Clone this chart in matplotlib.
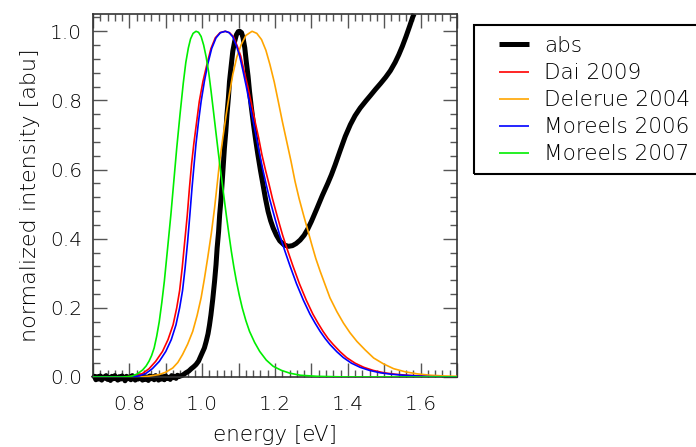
import matplotlib
matplotlib.use("Agg")
import matplotlib.pyplot as plt
from matplotlib.ticker import MultipleLocator, FixedLocator, FixedFormatter
from matplotlib.patches import Rectangle

# ---------------- data ----------------
abs_x = [0.700, 0.704, 0.708, 0.712, 0.716, 0.720, 0.724, 0.728, 0.732, 0.736,
         0.740, 0.744, 0.748, 0.752, 0.756, 0.760, 0.764, 0.768, 0.772, 0.776,
         0.780, 0.784, 0.788, 0.792, 0.796, 0.800, 0.804, 0.808, 0.812, 0.816,
         0.820, 0.824, 0.828, 0.832, 0.836, 0.840, 0.844, 0.848, 0.852, 0.856,
         0.860, 0.864, 0.868, 0.872, 0.876, 0.880, 0.884, 0.888, 0.892, 0.896,
         0.900, 0.904, 0.908, 0.912, 0.916, 0.920, 0.924, 0.928, 0.932, 0.936,
         0.940, 0.944, 0.950, 0.955, 0.963, 0.970, 0.977, 0.983, 0.990, 0.995,
         1.000, 1.006, 1.011, 1.016, 1.020, 1.024, 1.029, 1.034, 1.038, 1.041,
         1.045, 1.048, 1.052, 1.055, 1.058, 1.061, 1.065, 1.068, 1.072, 1.075,
         1.080, 1.084, 1.089, 1.094, 1.099, 1.103, 1.108, 1.112, 1.117, 1.121,
         1.126, 1.130, 1.135, 1.141, 1.147, 1.153, 1.160, 1.167, 1.174, 1.181,
         1.188, 1.195, 1.204, 1.213, 1.225, 1.237, 1.248, 1.258, 1.269, 1.280,
         1.290, 1.300, 1.315, 1.330, 1.345, 1.355, 1.365, 1.379, 1.393, 1.407,
         1.420, 1.434, 1.450, 1.462, 1.476, 1.490, 1.504, 1.517, 1.530, 1.540,
         1.550, 1.560, 1.570, 1.578, 1.582]
abs_y = [-0.004, 0.002, -0.008, 0.001, -0.006, 0.003, -0.009, 0.000, -0.003, 0.004,
         -0.007, -0.001, -0.010, 0.002, -0.005, 0.004, -0.004, -0.009, 0.001, -0.006,
         0.003, -0.002, -0.011, 0.002, -0.005, 0.000, -0.008, 0.004, -0.003, -0.009,
         0.001, -0.006, 0.003, -0.004, -0.009, 0.002, -0.007, 0.000, -0.010, 0.003,
         -0.005, 0.001, -0.008, 0.004, -0.003, -0.009, 0.002, -0.006, 0.001, -0.008,
         0.003, -0.004, -0.001, -0.007, 0.004, -0.002, 0.002, -0.004, 0.005, 0.001,
         0.003, 0.004, 0.008, 0.012, 0.017, 0.024, 0.030, 0.036, 0.046, 0.058,
         0.070, 0.084, 0.103, 0.125, 0.150, 0.180, 0.225, 0.277, 0.325, 0.373,
         0.420, 0.470, 0.518, 0.566, 0.614, 0.662, 0.712, 0.759, 0.808, 0.855,
         0.905, 0.942, 0.970, 0.990, 0.999, 1.000, 0.996, 0.982, 0.952, 0.913,
         0.870, 0.826, 0.780, 0.730, 0.685, 0.643, 0.598, 0.556, 0.515, 0.479,
         0.452, 0.431, 0.410, 0.394, 0.382, 0.378, 0.380, 0.386, 0.396, 0.410,
         0.428, 0.450, 0.487, 0.525, 0.560, 0.585, 0.613, 0.655, 0.696, 0.730,
         0.756, 0.778, 0.799, 0.814, 0.832, 0.849, 0.867, 0.886, 0.910, 0.932,
         0.957, 0.985, 1.015, 1.040, 1.050]

dai_x = [0.700, 0.780, 0.800, 0.817, 0.836, 0.854, 0.872, 0.891, 0.906, 0.920,
         0.930, 0.938, 0.945, 0.952, 0.959, 0.965, 0.971, 0.977, 0.985, 0.992,
         1.002, 1.013, 1.024, 1.036, 1.049, 1.063, 1.075, 1.086, 1.096, 1.106,
         1.115, 1.125, 1.135, 1.145, 1.155, 1.164, 1.174, 1.184, 1.193, 1.203,
         1.212, 1.221, 1.235, 1.249, 1.267, 1.286, 1.304, 1.318, 1.332, 1.346,
         1.360, 1.379, 1.397, 1.420, 1.444, 1.470, 1.500, 1.530, 1.564, 1.600,
         1.637, 1.700]
dai_y = [0.000, 0.000, 0.001, 0.003, 0.010, 0.024, 0.045, 0.074, 0.108, 0.151,
         0.200, 0.250, 0.315, 0.392, 0.468, 0.547, 0.618, 0.675, 0.740, 0.797,
         0.855, 0.904, 0.950, 0.981, 0.996, 1.000, 0.996, 0.984, 0.958, 0.928,
         0.886, 0.841, 0.792, 0.740, 0.692, 0.643, 0.598, 0.556, 0.516, 0.477,
         0.443, 0.410, 0.365, 0.322, 0.270, 0.222, 0.182, 0.156, 0.132, 0.111,
         0.094, 0.073, 0.056, 0.040, 0.028, 0.019, 0.012, 0.008, 0.005, 0.003,
         0.001, 0.000]

del_x = [0.700, 0.820, 0.850, 0.882, 0.900, 0.919, 0.933, 0.946, 0.960, 0.974,
         0.986, 0.997, 1.006, 1.015, 1.025, 1.034, 1.041, 1.048, 1.057, 1.066,
         1.075, 1.084, 1.095, 1.107, 1.120, 1.137, 1.150, 1.163, 1.175, 1.186,
         1.198, 1.209, 1.220, 1.232, 1.244, 1.255, 1.266, 1.278, 1.290, 1.301,
         1.312, 1.324, 1.338, 1.351, 1.370, 1.388, 1.406, 1.425, 1.448, 1.471,
         1.498, 1.526, 1.558, 1.591, 1.628, 1.665, 1.700]
del_y = [0.000, 0.000, 0.002, 0.007, 0.014, 0.026, 0.042, 0.065, 0.095, 0.132,
         0.178, 0.229, 0.284, 0.344, 0.415, 0.489, 0.556, 0.624, 0.694, 0.759,
         0.820, 0.875, 0.925, 0.961, 0.988, 1.000, 0.994, 0.976, 0.945, 0.904,
         0.853, 0.797, 0.740, 0.682, 0.624, 0.566, 0.517, 0.470, 0.425, 0.383,
         0.343, 0.306, 0.266, 0.229, 0.189, 0.156, 0.128, 0.103, 0.078, 0.055,
         0.038, 0.024, 0.015, 0.009, 0.005, 0.003, 0.002]

m06_x = [0.700, 0.790, 0.810, 0.827, 0.845, 0.863, 0.882, 0.900, 0.915, 0.928,
         0.938, 0.946, 0.953, 0.960, 0.966, 0.972, 0.978, 0.983, 0.990, 0.997,
         1.006, 1.015, 1.026, 1.038, 1.050, 1.064, 1.074, 1.084, 1.094, 1.103,
         1.112, 1.121, 1.130, 1.140, 1.149, 1.158, 1.167, 1.176, 1.185, 1.195,
         1.204, 1.213, 1.227, 1.241, 1.259, 1.278, 1.296, 1.310, 1.324, 1.338,
         1.351, 1.370, 1.388, 1.410, 1.434, 1.460, 1.490, 1.520, 1.554, 1.590,
         1.628, 1.700]
m06_y = [0.000, 0.000, 0.001, 0.003, 0.010, 0.024, 0.045, 0.074, 0.108, 0.151,
         0.200, 0.250, 0.315, 0.392, 0.468, 0.547, 0.618, 0.675, 0.740, 0.797,
         0.855, 0.904, 0.950, 0.981, 0.996, 1.000, 0.996, 0.984, 0.958, 0.928,
         0.886, 0.841, 0.792, 0.740, 0.692, 0.643, 0.598, 0.556, 0.516, 0.477,
         0.443, 0.410, 0.365, 0.322, 0.270, 0.222, 0.182, 0.156, 0.132, 0.111,
         0.094, 0.073, 0.056, 0.040, 0.028, 0.019, 0.012, 0.008, 0.005, 0.003,
         0.001, 0.000]

m07_x = [0.700, 0.780, 0.795, 0.808, 0.822, 0.836, 0.846, 0.854, 0.861, 0.868,
         0.875, 0.882, 0.889, 0.896, 0.905, 0.914, 0.922, 0.930, 0.939, 0.948,
         0.955, 0.962, 0.968, 0.975, 0.983, 0.990, 0.997, 1.004, 1.011, 1.018,
         1.024, 1.031, 1.038, 1.045, 1.052, 1.059, 1.066, 1.073, 1.080, 1.087,
         1.094, 1.102, 1.110, 1.120, 1.130, 1.144, 1.158, 1.176, 1.195, 1.218,
         1.241, 1.270, 1.315, 1.400, 1.700]
m07_y = [0.000, 0.000, 0.001, 0.003, 0.009, 0.020, 0.032, 0.046, 0.062, 0.084,
         0.118, 0.160, 0.215, 0.277, 0.373, 0.470, 0.566, 0.662, 0.759, 0.850,
         0.910, 0.952, 0.978, 0.994, 1.000, 0.997, 0.985, 0.960, 0.925, 0.880,
         0.830, 0.768, 0.705, 0.643, 0.585, 0.527, 0.470, 0.416, 0.364, 0.318,
         0.277, 0.236, 0.200, 0.163, 0.132, 0.100, 0.074, 0.049, 0.031, 0.019,
         0.011, 0.005, 0.002, 0.000, 0.000]

series = [
    ("abs", abs_x, abs_y, "black", 3.6),
    ("Dai 2009", dai_x, dai_y, "#ff0000", 1.2),
    ("Delerue 2004", del_x, del_y, "#ffa500", 1.2),
    ("Moreels 2006", m06_x, m06_y, "#0000ff", 1.2),
    ("Moreels 2007", m07_x, m07_y, "#00ee00", 1.2),
]

x_major = [0.7, 0.8, 0.9, 1.0, 1.1, 1.2, 1.3, 1.4, 1.5, 1.6, 1.7]
x_labels = ["", "0.8", "", "1.0", "", "1.2", "", "1.4", "", "1.6", ""]
y_major = [0.0, 0.2, 0.4, 0.6, 0.8, 1.0]
y_labels = ["0.0", "0.2", "0.4", "0.6", "0.8", "1.0"]

# ---------------- plot ----------------
plt.rcParams['font.family'] = ['DejaVu Sans']
plt.rcParams['font.weight'] = 200
plt.rcParams['axes.labelweight'] = 200
W, H = 696, 447
txt = "#000000"
fig = plt.figure(figsize=(W/100, H/100), dpi=100)
ax = fig.add_axes([93/W, 1-377/H, (457-93)/W, (377-14)/H])

for i, (name, xs, ys, c, lw) in enumerate(series):
    ln, = ax.plot(xs, ys, color=c, lw=lw, label=name, solid_joinstyle='round',
                  solid_capstyle='butt', zorder=2+i)
    if i == 0:
        ln.set_clip_on(False)

ax.set_xlim(0.7, 1.7)
ax.set_ylim(0.0, 1.05)

ax.xaxis.set_major_locator(FixedLocator(x_major))
ax.xaxis.set_major_formatter(FixedFormatter(x_labels))
ax.xaxis.set_minor_locator(MultipleLocator(0.02))
ax.yaxis.set_major_locator(FixedLocator(y_major))
ax.yaxis.set_major_formatter(FixedFormatter(y_labels))
ax.yaxis.set_minor_locator(MultipleLocator(0.04))

tcol = "#555555"
ax.tick_params(which='both', direction='in', top=True, right=True, color=tcol, width=1.0)
ax.tick_params(which='major', length=10)
ax.tick_params(which='minor', length=5)
ax.tick_params(axis='x', which='major', pad=13, labelsize=14.5, labelcolor=txt)
ax.tick_params(axis='y', which='major', pad=8, labelsize=14.5, labelcolor=txt)
for s in ax.spines.values():
    s.set_color("#333333")
    s.set_linewidth(1.2)

ax.set_xlabel("energy [eV]", fontsize=15.5, color=txt, labelpad=8)
ax.set_ylabel("normalized intensity [abu]", fontsize=16, color=txt, labelpad=7)

leg = fig.legend(loc='upper left', bbox_to_anchor=(499/W, 1-36/H), fontsize=15.5,
                 frameon=False, handlelength=1.4, handletextpad=0.7,
                 labelspacing=0.33, borderpad=0.0, borderaxespad=0.0)
for t in leg.get_texts():
    t.set_color(txt)
fig.patches.append(Rectangle((474/W, 1-174/H), (W+10-474)/W, (174-25)/H,
                             transform=fig.transFigure, fill=False,
                             edgecolor='black', lw=1.5, clip_on=False))

fig.savefig("out.png", dpi=100)
